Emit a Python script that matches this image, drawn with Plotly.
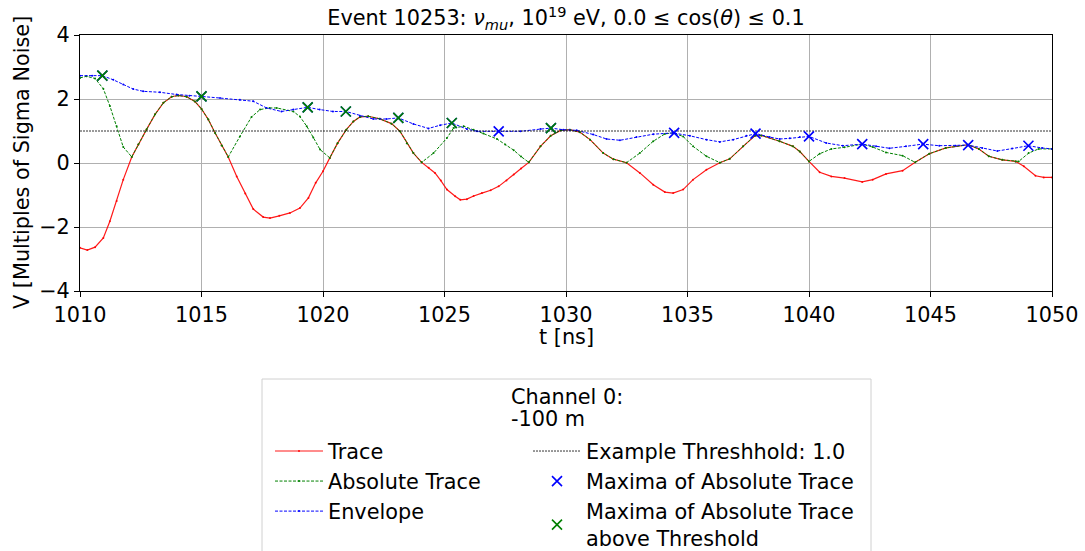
import plotly.graph_objects as go

# ---------------- data ----------------
trace_t = [1010.00, 1010.30, 1010.62, 1010.96, 1011.23, 1011.51, 1011.78, 1012.13, 1012.40, 1012.74,
           1013.09, 1013.43, 1013.77, 1014.05, 1014.39, 1014.73, 1015.00, 1015.28, 1015.56, 1015.83,
           1016.10, 1016.45, 1016.80, 1017.13, 1017.54, 1017.82, 1018.20, 1018.64, 1019.05, 1019.40,
           1019.70, 1020.00, 1020.28, 1020.60, 1020.96, 1021.25, 1021.52, 1021.86, 1022.34, 1022.82,
           1023.17, 1023.45, 1023.72, 1024.06, 1024.35, 1024.61, 1024.85, 1025.10, 1025.44, 1025.65,
           1025.92, 1026.20, 1026.54, 1026.90, 1027.23, 1027.55, 1027.85, 1028.15, 1028.47, 1028.95,
           1029.37, 1029.78, 1030.16, 1030.58, 1030.99, 1031.53, 1031.95, 1032.49, 1033.04, 1033.59,
           1034.07, 1034.41, 1034.82, 1035.23, 1035.78, 1036.33, 1036.74, 1037.29, 1037.77, 1038.04,
           1038.79, 1039.34, 1039.62, 1040.00, 1040.44, 1040.92, 1041.46, 1042.19, 1042.62, 1043.17,
           1043.85, 1044.37, 1044.95, 1045.63, 1046.54, 1046.99, 1047.40, 1047.95, 1048.50, 1048.84,
           1049.32, 1049.66, 1050.00]
trace_v = [-2.65, -2.72, -2.63, -2.34, -1.82, -1.19, -0.52, 0.19, 0.58, 1.05,
           1.52, 1.88, 2.07, 2.11, 2.07, 1.92, 1.69, 1.36, 0.94, 0.55,
           0.19, -0.42, -0.95, -1.44, -1.69, -1.72, -1.65, -1.56, -1.41, -1.09,
           -0.62, -0.26, 0.16, 0.62, 1.04, 1.30, 1.44, 1.46, 1.38, 1.23,
           0.99, 0.62, 0.31, 0.02, -0.15, -0.31, -0.55, -0.83, -1.04, -1.15,
           -1.13, -1.03, -0.94, -0.85, -0.73, -0.55, -0.36, -0.17, 0.02, 0.52,
           0.85, 1.02, 1.04, 0.96, 0.73, 0.31, 0.12, 0.01, -0.31, -0.68,
           -0.91, -0.94, -0.83, -0.52, -0.21, 0.01, 0.13, 0.52, 0.85, 0.86,
           0.68, 0.52, 0.36, 0.05, -0.29, -0.42, -0.47, -0.59, -0.52, -0.34,
           -0.24, 0.02, 0.29, 0.47, 0.57, 0.44, 0.21, 0.10, 0.05, -0.10,
           -0.40, -0.45, -0.45]

abs_t = [1010.00, 1010.27, 1010.62, 1010.96, 1011.23, 1011.51, 1011.78, 1012.13, 1012.40, 1012.74,
         1013.09, 1013.43, 1013.77, 1014.05, 1014.39, 1014.73, 1015.00, 1015.28, 1015.56, 1015.83,
         1016.10, 1016.58, 1017.06, 1017.41, 1017.80, 1018.10, 1018.78, 1019.05, 1019.33, 1019.60,
         1019.88, 1020.28, 1020.60, 1020.96, 1021.25, 1021.52, 1021.86, 1022.34, 1022.82, 1023.17,
         1023.45, 1023.72, 1024.06, 1024.55, 1025.10, 1025.37, 1025.79, 1026.20, 1026.60, 1027.16,
         1027.50, 1027.85, 1028.15, 1028.47, 1028.95, 1029.37, 1029.78, 1030.16, 1030.58, 1030.99,
         1031.53, 1031.95, 1032.49, 1033.04, 1033.59, 1034.07, 1034.41, 1034.82, 1035.23, 1035.78,
         1036.33, 1036.74, 1037.29, 1037.77, 1038.04, 1038.79, 1039.34, 1039.62, 1040.00, 1040.44,
         1040.92, 1041.46, 1042.19, 1042.62, 1043.17, 1043.85, 1044.37, 1044.95, 1045.63, 1046.54,
         1046.99, 1047.40, 1047.95, 1048.50, 1048.63, 1049.04, 1049.45, 1050.00]
abs_v = [2.66, 2.71, 2.64, 2.32, 1.78, 1.15, 0.50, 0.19, 0.58, 1.05,
         1.52, 1.88, 2.07, 2.11, 2.07, 1.92, 1.69, 1.36, 0.94, 0.55,
         0.19, 0.83, 1.44, 1.67, 1.72, 1.72, 1.61, 1.45, 1.15, 0.80,
         0.42, 0.16, 0.62, 1.04, 1.30, 1.44, 1.46, 1.38, 1.23, 0.99,
         0.62, 0.31, 0.02, 0.31, 0.78, 1.09, 1.15, 1.04, 0.92, 0.75,
         0.58, 0.40, 0.20, 0.02, 0.52, 0.85, 1.02, 1.04, 0.96, 0.73,
         0.31, 0.12, 0.01, 0.31, 0.68, 0.91, 0.94, 0.83, 0.52, 0.21,
         0.01, 0.13, 0.52, 0.85, 0.86, 0.68, 0.52, 0.36, 0.05, 0.29,
         0.44, 0.49, 0.59, 0.50, 0.33, 0.23, 0.02, 0.29, 0.47, 0.57,
         0.44, 0.21, 0.10, 0.05, 0.05, 0.31, 0.44, 0.44]

env_t = [1010.00, 1010.50, 1010.92, 1011.37, 1011.78, 1012.19, 1012.60, 1013.29, 1013.98, 1014.50,
         1015.00, 1015.76, 1016.58, 1017.13, 1017.68, 1018.29, 1018.78, 1019.37, 1019.86, 1020.41,
         1020.94, 1021.52, 1022.07, 1022.62, 1023.10, 1023.72, 1024.34, 1024.82, 1025.30, 1025.92,
         1026.34, 1027.23, 1028.13, 1028.95, 1029.38, 1029.89, 1030.44, 1031.12, 1031.67, 1032.22,
         1032.90, 1033.59, 1034.40, 1035.10, 1035.78, 1036.33, 1036.88, 1037.42, 1037.81, 1038.38,
         1038.79, 1039.21, 1039.62, 1040.00, 1040.71, 1041.39, 1042.19, 1042.76, 1043.31, 1043.99,
         1044.67, 1045.36, 1046.04, 1046.54, 1047.13, 1047.75, 1048.36, 1049.02, 1049.59, 1050.00]
env_v = [2.73, 2.73, 2.73, 2.60, 2.45, 2.31, 2.24, 2.21, 2.14, 2.10,
         2.08, 2.03, 1.98, 1.93, 1.72, 1.61, 1.67, 1.74, 1.67, 1.61,
         1.61, 1.48, 1.375, 1.375, 1.41, 1.22, 1.08, 1.18, 1.25, 1.06,
         0.99, 0.99, 0.99, 1.06, 1.09, 1.04, 1.02, 0.89, 0.75, 0.71,
         0.81, 0.90, 0.94, 0.85, 0.73, 0.66, 0.73, 0.85, 0.92, 0.81,
         0.75, 0.77, 0.81, 0.83, 0.625, 0.54, 0.59, 0.52, 0.46, 0.52,
         0.59, 0.54, 0.54, 0.56, 0.47, 0.375, 0.45, 0.54, 0.47, 0.44]

max_t = [1010.92, 1015.00, 1019.37, 1020.94, 1023.10, 1025.30, 1027.23, 1029.38,
         1034.45, 1037.80, 1040.00, 1042.19, 1044.70, 1046.55, 1049.03]
max_v = [2.73, 2.08, 1.74, 1.61, 1.41, 1.25, 0.99, 1.09,
         0.94, 0.92, 0.83, 0.59, 0.59, 0.56, 0.54]

above_t = [1010.92, 1015.00, 1019.37, 1020.94, 1023.10, 1025.30, 1029.38]
above_v = [2.73, 2.08, 1.74, 1.61, 1.41, 1.25, 1.09]

threshold = 1.0
x_range = [1010, 1050]
y_range = [-4, 4]
x_ticks = [1010, 1015, 1020, 1025, 1030, 1035, 1040, 1045, 1050]
y_ticks = [-4, -2, 0, 2, 4]

title_text = ("Event 10253: <i>ν</i><sub><i>mu</i></sub>, 10<sup>19</sup> eV, "
              "0.0 ≤ cos(<i>θ</i>) ≤ 0.1")
x_title = "t [ns]"
y_title = "V [Multiples of Sigma Noise]"
legend_title = ["Channel 0:", "-100 m"]

# ---------------- layout geometry ----------------
W, H = 1085, 551
ML, MR, MT, MB = 80, 33, 35, 260
PW = W - ML - MR
PH = H - MT - MB
FONT = "DejaVu Sans"
FS = 20.8


def px_x(px):
    return (px - ML) / PW


def px_y(py):
    return (H - MB - py) / PH


fig = go.Figure()

fig.add_trace(go.Scatter(
    x=trace_t, y=trace_v, mode="lines+markers", name="Trace",
    line=dict(color="rgba(255,0,0,0.9)", width=1.2),
    marker=dict(size=2, color="rgba(255,0,0,0.9)"),
    legend="legend", legendgroup="a"))
fig.add_trace(go.Scatter(
    x=abs_t, y=abs_v, mode="lines+markers", name="Absolute Trace",
    line=dict(color="green", width=1, dash="3px,1.5px"),
    marker=dict(size=2, color="green"),
    legend="legend", legendgroup="b"))
fig.add_trace(go.Scatter(
    x=env_t, y=env_v, mode="lines+markers", name="Envelope",
    line=dict(color="blue", width=1, dash="3px,1.5px"),
    marker=dict(size=2, color="blue"),
    legend="legend", legendgroup="c"))
fig.add_trace(go.Scatter(
    x=x_range, y=[threshold, threshold], mode="lines",
    name="Example Threshhold: 1.0",
    line=dict(color="black", width=0.8, dash="2px,1px"),
    legend="legend2", legendgroup="d"))
fig.add_trace(go.Scatter(
    x=max_t, y=max_v, mode="markers", name="Maxima of Absolute Trace",
    marker=dict(symbol="x-thin", size=10, line=dict(color="blue", width=1.6), color="blue"),
    legend="legend2", legendgroup="e"))
fig.add_trace(go.Scatter(
    x=above_t, y=above_v, mode="markers",
    name="Maxima of Absolute Trace<br>above Threshold",
    marker=dict(symbol="x-thin", size=10, line=dict(color="green", width=1.6), color="green"),
    legend="legend2", legendgroup="f"))

axis_common = dict(
    showgrid=True, gridcolor="#b0b0b0", gridwidth=1,
    showline=True, linecolor="black", linewidth=1, mirror=True,
    ticks="outside", ticklen=5, tickcolor="black", tickwidth=1,
    tickfont=dict(family=FONT, size=FS, color="black"),
    zeroline=False, automargin=False,
)

legend_common = dict(
    xref="container", yref="container", xanchor="left", yanchor="top",
    bgcolor="rgba(0,0,0,0)", borderwidth=0, tracegroupgap=0,
    font=dict(family=FONT, size=FS, color="black"), itemwidth=48,
)

fig.update_layout(
    width=W, height=H,
    margin=dict(l=ML, r=MR, t=MT, b=MB, autoexpand=False),
    paper_bgcolor="white", plot_bgcolor="white",
    font=dict(family=FONT, size=FS, color="black"),
    title=dict(text=title_text, x=0.5, xref="paper", xanchor="center",
               y=1 - 18 / H, yref="container", yanchor="middle",
               font=dict(family=FONT, size=FS, color="black")),
    xaxis=dict(range=x_range, tickvals=x_ticks, **axis_common),
    yaxis=dict(range=y_range, tickvals=y_ticks, **axis_common),
    legend=dict(x=270 / W, y=1 - 431 / H, **legend_common),
    legend2=dict(x=528 / W, y=1 - 431 / H, **legend_common),
    showlegend=True,
)

# axis titles
fig.add_annotation(text=x_title, xref="paper", yref="paper", x=0.5, y=px_y(337),
                   xanchor="center", yanchor="middle", showarrow=False,
                   font=dict(family=FONT, size=FS, color="black"))
fig.add_annotation(text=y_title, xref="paper", yref="paper", x=px_x(22), y=0.5,
                   xanchor="center", yanchor="middle", showarrow=False, textangle=-90,
                   font=dict(family=FONT, size=FS, color="black"))

# legend frame
fig.add_shape(type="rect", xref="paper", yref="paper",
              x0=px_x(262), x1=px_x(871), y0=px_y(379), y1=px_y(565),
              line=dict(color="#d0d0d0", width=1), fillcolor="rgba(0,0,0,0)", layer="above")

for i, txt in enumerate(legend_title):
    fig.add_annotation(text=txt, xref="paper", yref="paper",
                       x=px_x(509), y=px_y(397 + 21.5 * i), xanchor="left", yanchor="middle",
                       showarrow=False, font=dict(family=FONT, size=FS, color="black"))

fig.write_html("out.html")
